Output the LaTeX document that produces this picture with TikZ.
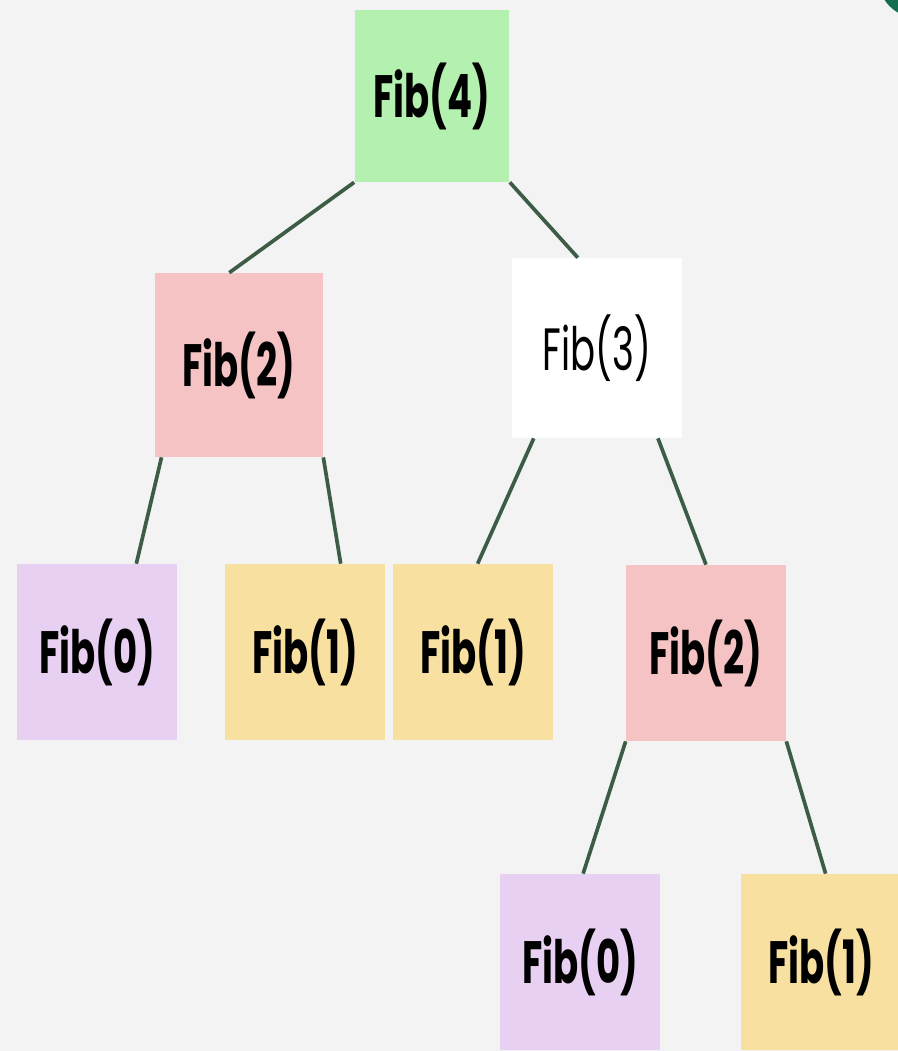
\documentclass[tikz,border=0pt]{standalone}
\usepackage{fontspec}
\setmainfont{Poppins}

\definecolor{bggrey}{HTML}{F3F3F3}
\definecolor{boxgreen}{HTML}{B4F0AF}
\definecolor{boxpink}{HTML}{F5C3C3}
\definecolor{boxlilac}{HTML}{E8D0F2}
\definecolor{boxyellow}{HTML}{F8E1A0}
\definecolor{linkgreen}{HTML}{3D5C45}
\definecolor{logoteal}{HTML}{146E50}

\tikzstyle{fibbox}=[minimum width=3.2cm,minimum height=3.52cm,inner sep=0pt,
  font=\bfseries\fontsize{34}{34}\selectfont]
\tikzstyle{link}=[draw=linkgreen,line width=2.1pt]

\newcommand{\fibtext}[1]{\scalebox{0.62}[1]{Fib(#1)}}

\begin{document}
\begin{tikzpicture}[x=0.02cm,y=-0.02cm]

   % page and background
   \clip (0,0) rectangle (898,1051);
   \fill[bggrey] (0,0) rectangle (898,1051);
   \fill[logoteal] (918,-22) circle (40);

   % root
   \node[fibbox,fill=boxgreen,minimum width=3.1cm,minimum height=3.44cm] (fib4) at (432,96) {\fibtext{4}};

   % second level
   \node[fibbox,fill=boxpink,minimum width=3.36cm,minimum height=3.68cm] (fib2l) at (239,365) {\fibtext{2}};
   \node[fibbox,fill=white,minimum width=3.4cm,minimum height=3.6cm,
     font=\mdseries\fontsize{34}{34}\selectfont] (fib3) at (597,348) {\fibtext{3}};

   % third level
   \node[fibbox,fill=boxlilac] (fib0l) at (97,652) {\fibtext{0}};
   \node[fibbox,fill=boxyellow] (fib1l) at (305,652) {\fibtext{1}};
   \node[fibbox,fill=boxyellow] (fib1m) at (473,652) {\fibtext{1}};
   \node[fibbox,fill=boxpink] (fib2r) at (706,653) {\fibtext{2}};

   % fourth level
   \node[fibbox,fill=boxlilac] (fib0r) at (580,962) {\fibtext{0}};
   \node[fibbox,fill=boxyellow] (fib1r) at (821,962) {\fibtext{1}};

   % calls
   \draw[link] (fib4.south west) -- (fib2l.96);
   \draw[link] (fib4.south east) -- (fib3.102);
   \draw[link] (fib2l.-130) -- (fib0l.66);
   \draw[link] (fib2l.south east) -- (fib1l.68);
   \draw[link] (fib3.-125) -- (fib1m.87);
   \draw[link] (fib3.-56) -- (fib2r.north);
   \draw[link] (fib2r.south west) -- (fib0r.88);
   \draw[link] (fib2r.south east) -- (fib1r.87);

\end{tikzpicture}
\end{document}
